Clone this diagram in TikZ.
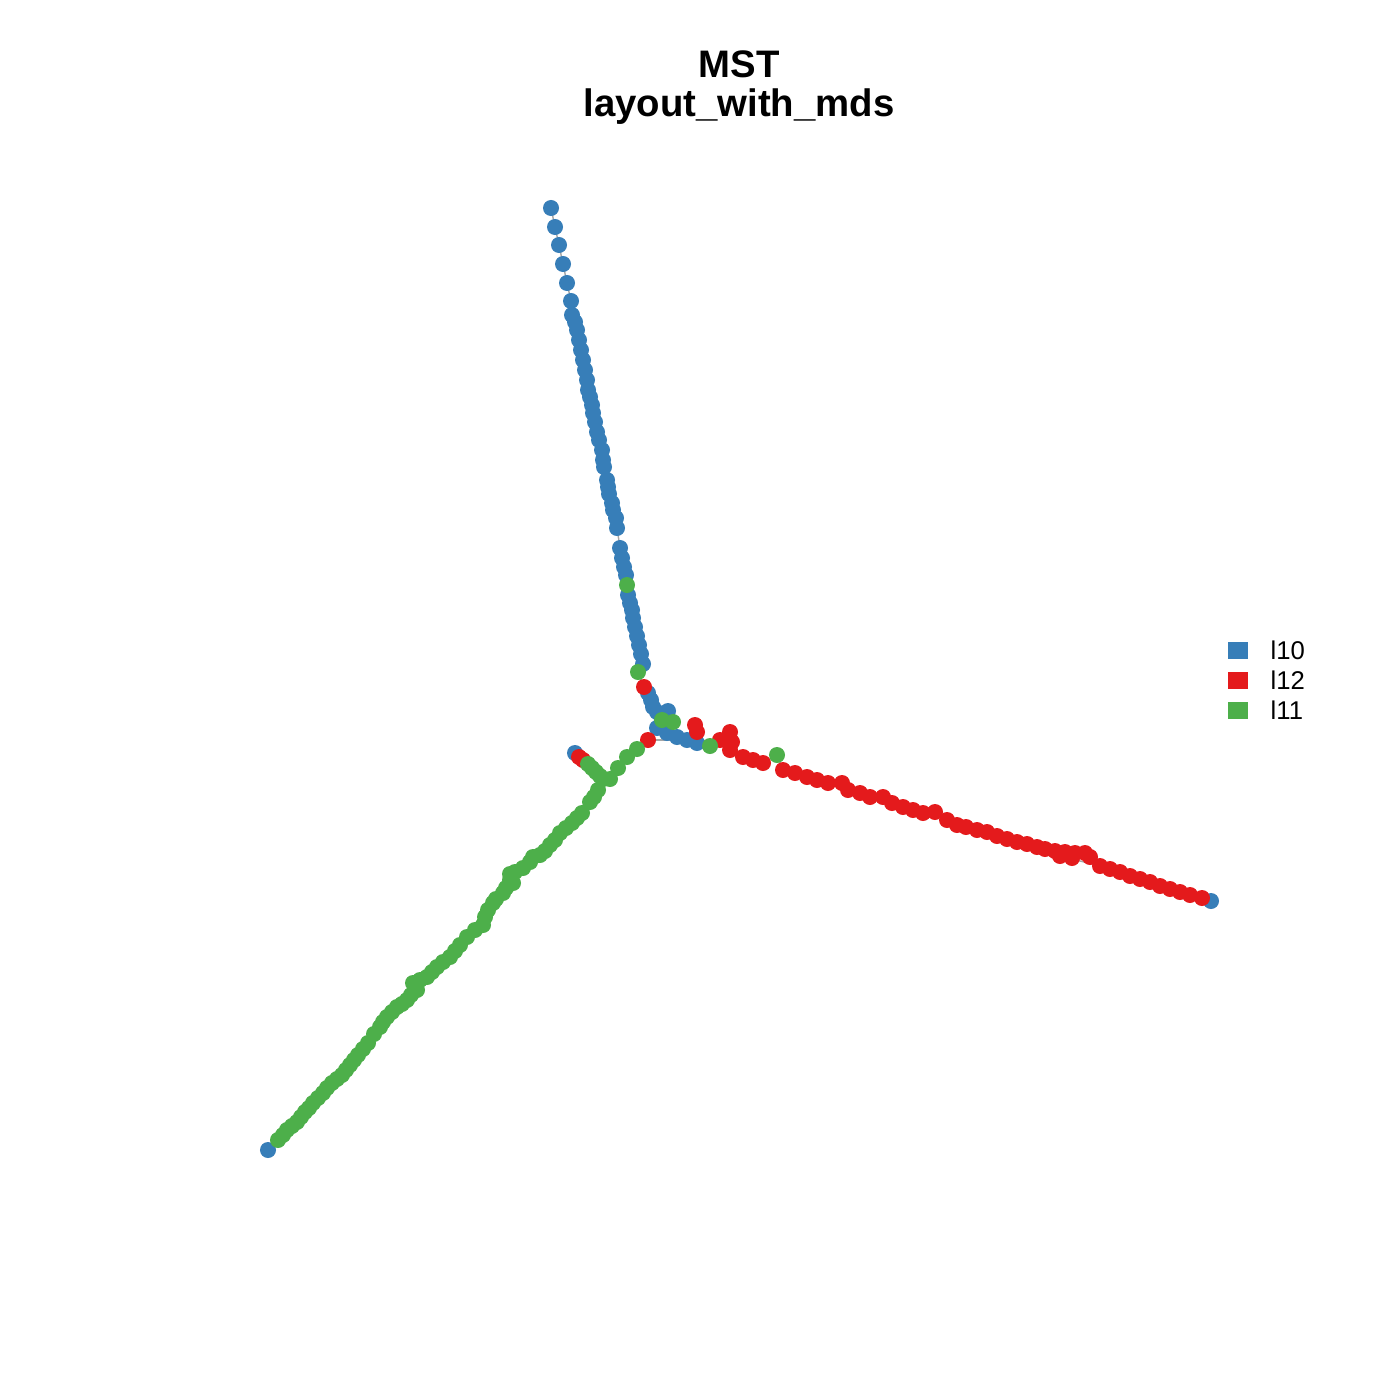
\documentclass[tikz,border=0pt]{standalone}
\usepackage{fontspec}
\setmainfont{Liberation Sans}
\definecolor{B}{HTML}{377EB8}
\definecolor{R}{HTML}{E41A1C}
\definecolor{G}{HTML}{4DAF4A}
\pgfdeclarelayer{back}
\pgfdeclarelayer{edges}
\pgfdeclarelayer{LB}
\pgfdeclarelayer{LR}
\pgfdeclarelayer{LG}
\pgfsetlayers{back,edges,LB,LR,LG,main}
\tikzset{
  pt/.style={circle,inner sep=0pt,minimum size=0.16cm,draw=none},
  edge/.style={draw=gray!70,line width=0.4pt},
  legbox/.style={inner sep=0pt,minimum width=0.2cm,minimum height=0.17cm,draw=none},
  legtext/.style={anchor=base west,inner sep=0pt,font=\fontsize{7.3}{9}\selectfont},
  ttl/.style={anchor=base,inner sep=0pt,font=\fontsize{10.9}{13}\selectfont\bfseries}
}
\newcommand\mybranch[3]{% #1 prefix, #2 node to attach to (or none), #3 list
  \foreach \x/\y/\c [count=\i] in {#3} {
    \begin{pgfonlayer}{L\c}
      \node[pt,fill=\c] (#1\i) at (\x,\y) {};
    \end{pgfonlayer}
  }
  \begin{pgfonlayer}{edges}
    \foreach \x/\y/\c [count=\i, remember=\i as \j (initially 0)] in {#3} {
      \ifnum\j>0 \draw[edge] (#1\j.center) -- (#1\i.center);
      \else \ifx\relax#2\relax\else \draw[edge] (#2.center) -- (#1\i.center);\fi\fi
    }
  \end{pgfonlayer}
}
\begin{document}
\begin{tikzpicture}[x=0.01cm,y=-0.01cm]
\useasboundingbox (0,0) rectangle (1400,1400);
\begin{pgfonlayer}{back}
\fill[white] (0,0) rectangle (1400,1400);
\end{pgfonlayer}
% title
\node[ttl] (t1) at (739,78) {MST};
\node[ttl] (t2) at (739,117) {layout\_with\_mds};
% top branch
\mybranch{a}{}{551/208/B,555/227/B,559/245/B,563/264/B,567/283/B,571/301/B,572/315/B,575/322/B,577/330/B,579/340/B,581/350/B,583/360/B,585/370/B,587/380/B,588/390/B,590/397/B,592/405/B,593/413/B,595/422/B,597/432/B,599/440/B,602/450/B,603/460/B,604/467/B,607/480/B,608/487/B,609/494/B,612/503/B,613/510/B,616/518/B,617/528/B,620/548/B,622/558/B,624/567/B,626/575/B,627/585/G,628/595/B,630/603/B,632/610/B,633/618/B,635/627/B,637/636/B,639/645/B,641/654/B,643/664/B,638/672/G,644/687/R,648/693/B,651/700/B,653/707/B,657/712/B,668/711/B,662/720/G,673/722/G,657/728/B,667/733/B,677/737/B,687/740/B,697/743/B}
% side red points near junction
\mybranch{s}{a59}{695/725/R,697/732/R}
% red branch
\mybranch{r}{a59}{710/746/G,720/740/R,730/732/R,732/742/R,730/750/R,743/757/R,753/760/R,763/763/R,777/755/G,783/770/R,795/773/R,807/777/R,817/780/R,828/783/R,842/783/R,848/790/R,860/793/R,870/797/R,883/797/R,892/803/R,903/807/R,913/810/R,923/813/R,935/812/R,947/820/R,957/825/R,966/827/R,977/830/R,987/832/R,997/836/R,1007/839/R,1017/842/R,1027/844/R,1037/847/R,1045/849/R,1055/851/R,1065/852/R,1075/853/R,1085/853/R,1090/857/R,1072/858/R,1060/856/R,1100/866/R,1110/869/R,1120/872/R,1130/876/R,1140/879/R,1150/882/R,1160/886/R,1170/889/R,1180/892/R,1190/895/R,1202/898/R,1211/901/B}
% short link to lower branch
\mybranch{c}{a58}{648/740/R,637/749/G,627/757/G,618/768/G,610/779/G}
% short upper-left stub
\mybranch{u}{c5}{603/779/G,600/776/G,596/772/G,592/768/G,588/764/G,583/760/R,579/757/R,575/753/B}
% green main branch
\mybranch{g}{c5}{598/790/G,594/797/G,590/802/G,582/813/G,577/818/G,572/823/G,566/828/G,560/833/G,555/840/G,550/845/G,545/851/G,540/855/G,533/857/G,530/862/G,523/868/G,515/872/G,510/874/G,510/880/G,513/883/G,506/888/G,503/893/G,496/899/G,493/903/G,488/910/G,485/917/G,483/925/G,475/930/G,467/937/G,460/945/G,455/951/G,450/957/G,443/962/G,437/967/G,432/972/G,427/977/G,420/980/G,413/983/G,417/990/G,411/995/G,407/1000/G,402/1004/G,397/1007/G,392/1012/G,387/1017/G,383/1022/G,380/1027/G,374/1034/G,368/1043/G,363/1049/G,358/1055/G,354/1060/G,350/1065/G,346/1070/G,342/1075/G,337/1079/G,332/1083/G,327/1088/G,323/1093/G,318/1098/G,313/1103/G,309/1108/G,305/1112/G,301/1117/G,297/1122/G,292/1126/G,287/1130/G,283/1135/G,278/1140/G,268/1150/B}
% legend
\node[legbox,fill=B] (k1) at (1238,650) {};
\node[legbox,fill=R] (k2) at (1238,680) {};
\node[legbox,fill=G] (k3) at (1238,710) {};
\node[legtext] (l1) at (1270,659) {l10};
\node[legtext] (l2) at (1270,689) {l12};
\node[legtext] (l3) at (1270,719) {l11};
\end{tikzpicture}
\end{document}
